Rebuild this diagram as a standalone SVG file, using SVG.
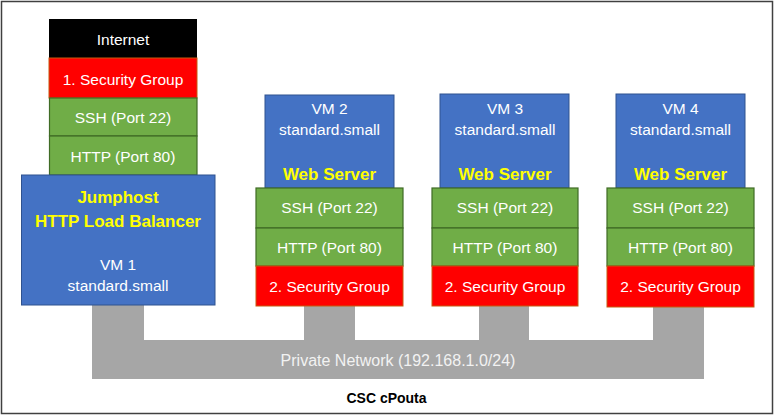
<svg xmlns="http://www.w3.org/2000/svg" width="775" height="420" viewBox="0 0 775 420">
<style>
text{font-family:"Liberation Sans",Arial,sans-serif;text-anchor:middle}
.t{font-size:15.5px;fill:#ffffff}
.b{font-size:17px;font-weight:bold;fill:#ffff00}
.blue{fill:#4472C4;stroke:#2F528F;stroke-width:1}
.green{fill:#70AD47;stroke:#3F6B25;stroke-width:1.2}
.red{fill:#ff0000;stroke:#C55A11;stroke-width:1}
.net{fill:#A6A6A6}
</style>
<rect x="1.5" y="1.5" width="771" height="412" fill="#ffffff" stroke="#404040" stroke-width="1.5"/>
<g id="connectors">
<polygon class="net" points="92,305 144,305 144,340 304,340 304,306 355,306 355,340 479,340 479,306 529,306 529,340 653,340 653,307 704,307 704,379 92,379"/>
<text x="398" y="366" style="font-size:16px;fill:#F2F2F2">Private Network (192.168.1.0/24)</text>
</g>
<g id="internet">
<rect x="49" y="19" width="148" height="39" fill="#000000"/>
<text class="t" x="123" y="45">Internet</text>
</g>
<g id="sg1">
<rect class="red" x="49" y="58" width="148" height="40"/>
<text class="t" x="123" y="85">1. Security Group</text>
</g>
<g id="vm1-ssh">
<rect class="green" x="49.5" y="98" width="147.5" height="38"/>
<text class="t" x="123" y="123">SSH (Port 22)</text>
</g>
<g id="vm1-http">
<rect class="green" x="49.5" y="136" width="147.5" height="39"/>
<text class="t" x="123" y="162">HTTP (Port 80)</text>
</g>
<g id="vm1">
<rect class="blue" x="21.5" y="175" width="193.5" height="130"/>
<text class="b" x="118" y="203">Jumphost</text>
<text class="b" x="118" y="227">HTTP  Load Balancer</text>
<text class="t" x="118" y="270">VM 1</text>
<text class="t" x="118" y="291">standard.small</text>
</g>
<g id="vm2">
<rect class="blue" x="265" y="95" width="129" height="93"/>
<text class="t" x="329.5" y="114">VM 2</text>
<text class="t" x="329.5" y="135">standard.small</text>
<text class="b" x="329.5" y="180">Web Server</text>
</g>
<g id="vm2-ssh">
<rect class="green" x="256" y="188" width="147" height="40"/>
<text class="t" x="329.5" y="213">SSH (Port 22)</text>
</g>
<g id="vm2-http">
<rect class="green" x="256" y="228" width="147" height="38"/>
<text class="t" x="329.5" y="253">HTTP (Port 80)</text>
</g>
<g id="vm2-sg">
<rect class="red" x="256" y="266" width="147" height="40"/>
<text class="t" x="329.5" y="292">2. Security Group</text>
</g>
<g id="vm3">
<rect class="blue" x="440" y="94" width="129" height="94"/>
<text class="t" x="505" y="114">VM 3</text>
<text class="t" x="505" y="135">standard.small</text>
<text class="b" x="505" y="180">Web Server</text>
</g>
<g id="vm3-ssh">
<rect class="green" x="432" y="188" width="146" height="40"/>
<text class="t" x="505" y="213">SSH (Port 22)</text>
</g>
<g id="vm3-http">
<rect class="green" x="432" y="228" width="146" height="38"/>
<text class="t" x="505" y="253">HTTP (Port 80)</text>
</g>
<g id="vm3-sg">
<rect class="red" x="432" y="266" width="146" height="40"/>
<text class="t" x="505" y="292">2. Security Group</text>
</g>
<g id="vm4">
<rect class="blue" x="616" y="94" width="129" height="94"/>
<text class="t" x="680.5" y="114">VM 4</text>
<text class="t" x="680.5" y="135">standard.small</text>
<text class="b" x="680.5" y="180">Web Server</text>
</g>
<g id="vm4-ssh">
<rect class="green" x="607" y="188" width="147" height="40"/>
<text class="t" x="680.5" y="213">SSH (Port 22)</text>
</g>
<g id="vm4-http">
<rect class="green" x="607" y="228" width="147" height="38"/>
<text class="t" x="680.5" y="253">HTTP (Port 80)</text>
</g>
<g id="vm4-sg">
<rect class="red" x="607" y="266" width="147" height="41"/>
<text class="t" x="680.5" y="292">2. Security Group</text>
</g>
<text x="386.5" y="403" style="font-size:14px;font-weight:bold;fill:#000000">CSC cPouta</text>
</svg>
